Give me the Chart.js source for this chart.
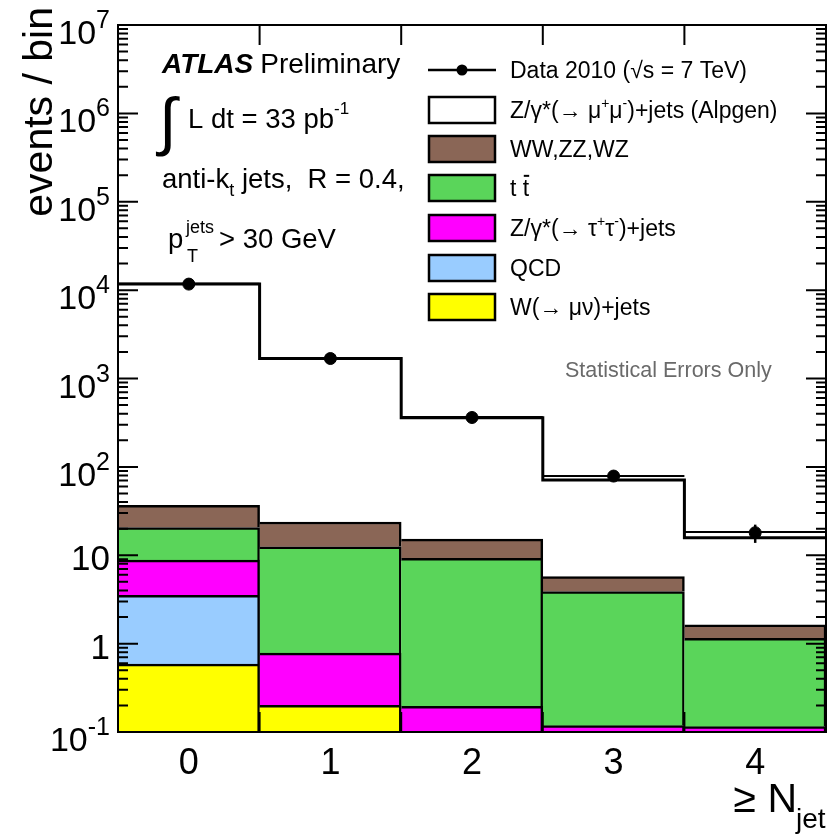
<!DOCTYPE html>
<html>
<head>
<meta charset="utf-8">
<script src="https://cdn.jsdelivr.net/npm/chart.js@4.4.0/dist/chart.umd.min.js"></script>
<style>
html, body { margin: 0; padding: 0; background: #fff; }
#wrap { width: 837px; height: 837px; position: relative; }
</style>
</head>
<body>
<div id="wrap"><canvas id="c" width="837" height="837"></canvas></div>
<script>
// bins of >= N jet
const nJet = ['0', '1', '2', '3', '4'];
// stacked MC, bottom to top
const wMunu   = [0.586, 0.20, 0, 0, 0];
const qcd     = [2.94, 0, 0, 0, 0];
const zTauTau = [5.27, 0.58, 0.195, 0.118, 0.115];
const ttbar   = [11.8, 11.7, 9.05, 3.77, 1.035];
const diboson = [16.1, 11.3, 5.95, 1.85, 0.48];
const zMuMu   = [11713, 1659, 345, 65.3, 14.1];
// upper edge of MC stat. error
const mcStatUp = [11790, 1690, 367, 78.7, 18.3];
// data 2010
const data2010 = [11700, 1683, 362, 78.7, 18.0];
const dataErr  = [108, 41, 19, 8.9, 4.2];
// y axis decades
const yDecades = [-1, 0, 1, 2, 3, 4, 5, 6, 7];

const FONT = '"Liberation Sans", Arial, Helvetica, sans-serif';

const mcTotal = nJet.map((_, i) => wMunu[i] + qcd[i] + zTauTau[i] + ttbar[i] + diboson[i] + zMuMu[i]);

function barBorder(ctx) {
    const v = ctx.raw;
    if (!v) return 0;
    return {top: 2.5, right: 2.5, left: 0, bottom: 0};
}

function mcSet(label, data, color, border) {
    return {
        type: 'bar', label: label, data: data, stack: 'mc',
        backgroundColor: color, borderColor: '#000',
        borderWidth: border, borderSkipped: 'start',
        categoryPercentage: 1, barPercentage: 1
    };
}

// text with super/subscripts: parts = [{t, s, dy, w}]
function rich(ctx, x, y, parts, size) {
    let cx = x;
    parts.forEach(p => {
        ctx.font = (p.w || '') + ' ' + (p.s || size) + 'px ' + FONT;
        ctx.fillText(p.t, cx, y + (p.dy || 0));
        const w = ctx.measureText(p.t).width;
        if (p.bar) {
            ctx.fillRect(cx + 1, y - (p.s || size) * 0.92, w - 1, 2);
        }
        cx += w;
    });
    return cx;
}

const legendRows = [
    {y: 70, kind: 'data', parts: [{t: 'Data 2010 ('}, {t: '\u221As'}, {t: ' = 7 TeV)'}]},
    {y: 110, color: '#ffffff', parts: [{t: 'Z/\u03B3*(\u2192 \u03BC'}, {t: '+', s: 14, dy: -10}, {t: '\u03BC'}, {t: '-', s: 14, dy: -10}, {t: ')+jets (Alpgen)'}]},
    {y: 149, color: '#8a6656', parts: [{t: 'WW,ZZ,WZ'}]},
    {y: 188, color: '#5ad55a', parts: [{t: 't '}, {t: 't', bar: true}]},
    {y: 228, color: '#ff00ff', parts: [{t: 'Z/\u03B3*(\u2192 \u03C4'}, {t: '+', s: 14, dy: -10}, {t: '\u03C4'}, {t: '-', s: 14, dy: -10}, {t: ')+jets'}]},
    {y: 268, color: '#99ccff', parts: [{t: 'QCD'}]},
    {y: 307, color: '#ffff00', parts: [{t: 'W(\u2192 \u03BC\u03BD)+jets'}]}
];

const atlasDeco = {
    id: 'atlasDeco',
    afterDatasetsDraw(chart) {
        const ctx = chart.ctx;
        const a = chart.chartArea;
        const xs = chart.scales.x, ys = chart.scales.y;
        const half = (xs.getPixelForValue(1) - xs.getPixelForValue(0)) / 2;
        ctx.save();
        ctx.strokeStyle = '#000';
        ctx.fillStyle = '#000';

        // MC total step outline
        ctx.lineWidth = 3;
        ctx.beginPath();
        mcTotal.forEach((v, i) => {
            const c = xs.getPixelForValue(i);
            const y = ys.getPixelForValue(v);
            if (i === 0) ctx.moveTo(c - half, y); else ctx.lineTo(c - half, y);
            ctx.lineTo(c + half, y);
        });
        ctx.stroke();

        // MC stat error upper edge
        ctx.lineWidth = 2;
        mcStatUp.forEach((v, i) => {
            const c = xs.getPixelForValue(i);
            const y = ys.getPixelForValue(v);
            ctx.beginPath();
            ctx.moveTo(c - half, y);
            ctx.lineTo(c + half, y);
            ctx.stroke();
        });

        // data error bars and markers
        ctx.lineWidth = 2.5;
        data2010.forEach((v, i) => {
            const c = xs.getPixelForValue(i);
            ctx.beginPath();
            ctx.moveTo(c, ys.getPixelForValue(v - dataErr[i]));
            ctx.lineTo(c, ys.getPixelForValue(v + dataErr[i]));
            ctx.stroke();
        });

        // frame
        ctx.lineWidth = 2;
        ctx.strokeRect(a.left, a.top, a.right - a.left, a.bottom - a.top);

        // y ticks, both sides
        yDecades.forEach(d => {
            for (let k = 1; k <= 9; k++) {
                const v = k * Math.pow(10, d);
                if (v > ys.max * 1.0001) continue;
                const y = ys.getPixelForValue(v);
                const len = k === 1 ? 20 : 10;
                ctx.lineWidth = 2;
                ctx.beginPath();
                ctx.moveTo(a.left, y); ctx.lineTo(a.left + len, y);
                ctx.moveTo(a.right, y); ctx.lineTo(a.right - len, y);
                ctx.stroke();
                if (d === 7) break;
            }
        });

        // x ticks at bin edges
        for (let i = 0; i < nJet.length - 1; i++) {
            const x = xs.getPixelForValue(i) + half;
            ctx.beginPath();
            ctx.moveTo(x, a.bottom); ctx.lineTo(x, a.bottom - 20);
            ctx.moveTo(x, a.top); ctx.lineTo(x, a.top + 20);
            ctx.stroke();
        }

        // y tick labels
        ctx.textBaseline = 'alphabetic';
        yDecades.forEach(d => {
            const y = ys.getPixelForValue(Math.pow(10, d));
            if (d === 0 || d === 1) {
                ctx.textAlign = 'right';
                ctx.font = '35px ' + FONT;
                ctx.fillText(d === 0 ? '1' : '10', 110, y + 15);
            } else {
                ctx.textAlign = 'right';
                ctx.font = '25px ' + FONT;
                const e = String(d);
                ctx.fillText(e, 110, y + 3);
                const ew = ctx.measureText(e).width;
                ctx.font = '34px ' + FONT;
                ctx.fillText('10', 110 - ew, y + 19);
            }
        });

        // x tick labels
        ctx.textAlign = 'center';
        ctx.font = '36px ' + FONT;
        nJet.forEach((t, i) => ctx.fillText(t, xs.getPixelForValue(i), 774));

        // axis titles
        ctx.textAlign = 'right';
        ctx.font = '41px ' + FONT;
        ctx.fillText('\u2265 N', 797, 812);
        ctx.textAlign = 'left';
        ctx.font = '28px ' + FONT;
        ctx.fillText('jet', 796, 828);

        ctx.save();
        ctx.translate(52, 7);
        ctx.rotate(-Math.PI / 2);
        ctx.textAlign = 'right';
        ctx.font = '41px ' + FONT;
        ctx.fillText('events / bin', 0, 0);
        ctx.restore();

        // ATLAS labels
        ctx.textAlign = 'left';
        let x = rich(ctx, 162, 73, [{t: 'ATLAS', w: 'italic bold'}], 28);
        rich(ctx, x + 7, 73, [{t: 'Preliminary'}], 28);
        ctx.font = '64px ' + FONT;
        ctx.fillText('\u222B', 159, 143);
        rich(ctx, 188, 128, [{t: 'L dt = 33 pb'}, {t: '-1', s: 17, dy: -14}], 27.5);
        rich(ctx, 162, 188, [{t: 'anti-k'}, {t: 't', s: 18, dy: 8}, {t: ' jets,  R = 0.4,'}], 27.5);
        rich(ctx, 168, 248, [{t: 'p'}], 27.5);
        rich(ctx, 186, 233, [{t: 'jets', s: 18}], 27.5);
        rich(ctx, 187, 262, [{t: 'T', s: 18}], 27.5);
        rich(ctx, 219, 248, [{t: '> 30 GeV'}], 27.5);

        // legend
        legendRows.forEach(r => {
            if (r.kind === 'data') {
                ctx.lineWidth = 2.5;
                ctx.beginPath();
                ctx.moveTo(428, r.y); ctx.lineTo(496, r.y);
                ctx.stroke();
                ctx.beginPath();
                ctx.arc(462, r.y, 5.5, 0, Math.PI * 2);
                ctx.fill();
            } else {
                ctx.fillStyle = r.color;
                ctx.fillRect(429, r.y - 13, 66, 26);
                ctx.lineWidth = 2.5;
                ctx.strokeRect(429, r.y - 13, 66, 26);
                ctx.fillStyle = '#000';
            }
            rich(ctx, 510, r.y + 8, r.parts, 23);
        });

        ctx.fillStyle = '#6a6a6a';
        rich(ctx, 565, 377, [{t: 'Statistical Errors Only'}], 21.5);
        ctx.restore();
    }
};

new Chart(document.getElementById('c'), {
    type: 'bar',
    data: {
        labels: nJet,
        datasets: [
            mcSet('W(\u2192 \u03BC\u03BD)+jets', wMunu, '#ffff00', barBorder),
            mcSet('QCD', qcd, '#99ccff', barBorder),
            mcSet('Z/\u03B3*(\u2192 \u03C4\u03C4)+jets', zTauTau, '#ff00ff', barBorder),
            mcSet('t t\u0304', ttbar, '#5ad55a', barBorder),
            mcSet('WW,ZZ,WZ', diboson, '#8a6656', barBorder),
            mcSet('Z/\u03B3*(\u2192 \u03BC\u03BC)+jets (Alpgen)', zMuMu, '#ffffff', 0),
            {
                type: 'line', label: 'Data 2010', data: data2010, stack: 'data',
                showLine: false, pointRadius: 6, pointStyle: 'circle',
                pointBackgroundColor: '#000', pointBorderColor: '#000', pointBorderWidth: 1,
                order: -1
            }
        ]
    },
    options: {
        responsive: false,
        animation: false,
        layout: {padding: {left: 118, top: 25, right: 11, bottom: 105}},
        plugins: {legend: {display: false}, tooltip: {enabled: false}},
        scales: {
            x: {display: false, stacked: true},
            y: {display: false, type: 'logarithmic', min: 0.1, max: 1e7, stacked: true}
        }
    },
    plugins: [atlasDeco]
});
</script>
</body>
</html>
